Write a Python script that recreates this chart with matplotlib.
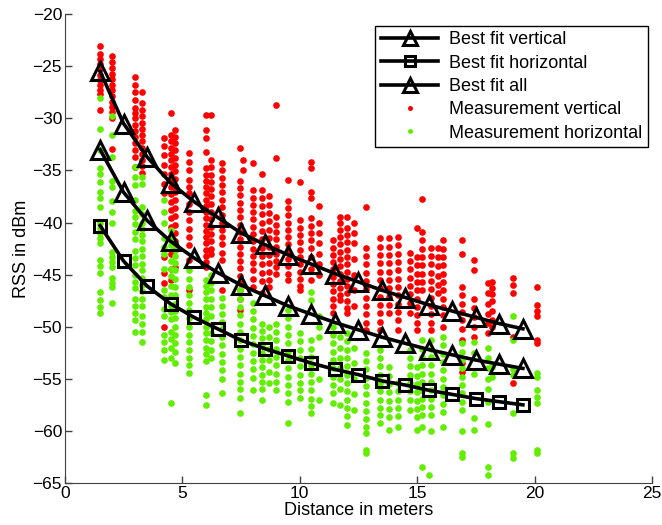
import matplotlib
matplotlib.use("Agg")
import matplotlib.pyplot as plt

plt.rcParams.update(
    {
        "font.family": ["Liberation Sans", "DejaVu Sans"],
        "font.size": 12,
        "axes.unicode_minus": True,
    }
)

RED = "#FF0000"
GREEN = "#62EE00"

# best-fit curves (one point per metre, starting at 1.5 m)
fit_x = [1.5, 2.5, 3.5, 4.5, 5.5, 6.5, 7.5, 8.5, 9.5, 10.5,
         11.5, 12.5, 13.5, 14.5, 15.5, 16.5, 17.5, 18.5, 19.5]
fit_vertical = [-25.5, -30.5, -33.7, -36.2, -38.0, -39.5, -41.0, -42.1, -43.1, -44.0,
                -44.9, -45.7, -46.5, -47.2, -47.9, -48.5, -49.1, -49.7, -50.2]
fit_horizontal = [-40.3, -43.7, -46.1, -47.8, -49.1, -50.2, -51.3, -52.1, -52.8, -53.5,
                  -54.1, -54.6, -55.2, -55.6, -56.1, -56.5, -56.9, -57.2, -57.5]
fit_all = [-33.0, -37.1, -39.8, -41.8, -43.4, -44.8, -46.0, -47.0, -48.0, -48.8,
           -49.6, -50.3, -51.0, -51.6, -52.2, -52.7, -53.2, -53.6, -54.0]

# measurement positions (m) and RSS samples (dBm) per position
meas_x = [1.5, 2.0, 3.0, 3.3, 4.2, 4.5, 4.7, 5.3, 6.0, 6.2, 6.7, 7.45, 7.6, 8.0, 8.4,
          8.7, 9.0, 9.5, 10.0, 10.5, 10.8, 11.4, 11.7, 12.0, 12.3, 12.8, 13.4, 13.8,
          14.2, 14.7, 15.0, 15.2, 15.5, 15.6, 15.9, 16.1, 16.9, 17.4, 18.0, 18.2, 19.1, 20.1]
meas_vertical = [
    [-23.1, -23.8, -24.3, -24.8, -25.3, -25.8, -26.3, -26.8, -27.3, -27.7, -29.2],
    [-24, -24.6, -25.2, -25.7, -26.2, -26.8, -27.3, -27.9, -28.4, -28.9, -29.4, -30, -32.9],
    [-26, -26.8, -27.5, -28.2, -29, -29.5, -30, -30.6, -31.2, -31.8, -32.4, -33, -33.7, -34.7],
    [-27.5, -28.5, -29.2, -29.8, -30.4, -31, -31.6, -32.2, -32.8, -33.4, -34, -34.6, -35.2],
    [-31.9, -32.7, -33.5, -34.5, -35.3, -36.3, -37.2, -43.3, -44.8, -45.8, -50],
    [-29.5, -31.6, -32.2, -32.8, -33.4, -34, -34.7, -35.3, -36, -36.6, -37.3, -38, -38.8,
     -39.6, -40.4, -43, -44.5, -45.5],
    [-31.1, -31.8, -32.4, -33, -33.8, -34.5, -35.1, -35.8, -36.5, -37.1, -37.8, -38.6,
     -39.4, -40.2, -41, -41.8, -42.6, -44.3],
    [-33.3, -34.2, -35, -35.9, -36.6, -37.2, -38.2, -39, -39.8, -40.6, -41.4, -42.2,
     -43.6, -46.5],
    [-29.7, -31.1, -31.9, -33.2, -34.8, -35.4, -36, -36.6, -37.2, -37.8, -38.4, -39,
     -39.6, -40.2, -40.8, -41.4, -42, -42.6, -43.2, -43.8, -44.3],
    [-29.7, -34, -34.7, -35.4, -36.1, -36.8, -37.5, -38.2, -39, -39.7, -40.4, -41.1,
     -41.8, -42.5, -43],
    [-34.3, -35, -35.7, -36.4, -37.1, -37.8, -38.5, -39.3, -40, -40.7, -41.4, -42.1,
     -42.9, -43.6, -46.5],
    [-32.8, -36, -36.7, -37.4, -38.1, -38.8, -39.5, -40.2, -40.9, -41.6, -42.3, -43,
     -43.7, -44.4, -45.1, -45.8, -46.5, -47.3, -48.4],
    [-34, -35],
    [-34.3, -36.9, -37.6, -38.3, -39, -39.7, -40.4, -41.1, -41.8, -42.5, -43.2, -43.9,
     -44.6, -45.4, -46.2],
    [-35.3, -36.9, -37.6, -38.4, -39.2, -40, -40.8, -41.6, -42.4, -43.2, -44, -44.8,
     -45.6, -46.8],
    [-37.5, -38.3, -39.1, -39.9, -40.7, -41.5, -42.3, -43.1, -43.9, -44.7, -45.5, -46.2],
    [-28.7, -33.8, -39.5, -40.2, -40.9, -41.6, -42.3, -43, -43.7, -44.3, -44.9],
    [-35.9, -37.9, -38.6, -39.3, -40, -40.7, -41.4, -42.1, -42.8, -43.5, -44.2, -44.9, -45.5],
    [-36.1, -39.8, -40.5, -41.2, -41.9, -42.6, -43.3, -44, -44.7, -45.4, -46.1, -46.5],
    [-34.2, -34.8, -37.1, -37.6, -39.6, -40.3, -41, -41.7, -42.4, -43.3, -44.5, -45.5],
    [-38.4, -40, -41, -42, -43, -44, -45],
    [-41.7, -42.4, -43.1, -43.8, -44.5, -45.2, -45.9, -46.6, -47.3, -48, -48.7],
    [-39.5, -40, -40.7, -41.4, -42.1, -42.8, -43.5, -44.2, -44.9, -45.6, -46.3, -47, -47.4],
    [-39.5, -40.5, -41.2, -41.9, -42.6, -43.3, -44, -44.7, -45.4, -46.1, -46.8, -47.5,
     -48.2, -48.7],
    [-40, -41, -42, -43.5, -45, -46.5, -48],
    [-38.5, -42.4, -43.2, -44, -44.8, -45.6, -46.4, -47.2, -48, -48.8, -49.6, -50.3],
    [-41.5, -42.3, -43.1, -43.9, -44.7, -45.5, -46.3, -47.1, -47.9, -48.7, -49.5, -50.3],
    [-41.5, -42.3, -43.1, -43.9, -44.7, -45.5, -46.3, -47.1, -47.9, -48.7],
    [-41.4, -42.2, -43, -43.8, -44.6, -45.4, -46.2, -47, -47.8, -48.6, -49.4, -50.3],
    [-42.9, -43.7, -44.5, -45.3, -46.1, -46.9, -47.7, -48.7],
    [-40.5, -43.3, -44.1, -44.9, -45.7, -46.5, -47.3, -48.1, -48.9, -49.6, -50.3],
    [-37.7, -40.9, -41.7, -42.5, -43.3, -44.1, -44.9, -45.7, -46.5],
    [],
    [-42.4, -43.2, -44, -44.8, -45.6, -46.4, -47.2, -48, -48.8, -49.6, -50.3],
    [-42.4, -43.3, -44.2, -45.1, -46, -46.8],
    [-41.7, -42.5, -43.3, -44.1, -44.9, -45.7, -46.5, -47.3, -48.1, -48.9, -50],
    [-41.7, -43, -46.2, -47, -47.8, -48.6, -49.4, -50.2, -51.3, -53.5, -54.3],
    [-43.6, -44.6, -47.3, -48.2, -49.1, -50, -51],
    [-45.8, -46.8, -47.8, -48.8, -49.6, -50.6],
    [-45.7, -46.3, -46.9, -47.5, -48.5, -49.4, -50],
    [-45.3, -46, -46.8, -51, -55.4],
    [-46.2, -47.9, -48.5, -49, -51.3, -51.6],
]
meas_horizontal = [
    [-28, -31, -33, -34.8, -35.3, -36.1, -37.1, -37.6, -38.5, -40, -40.5, -41, -41.5,
     -42, -43.6, -44.2, -44.8, -46.7, -47.4, -48.1, -48.7],
    [-29.8, -31.6, -33.7, -36, -36.6, -37.9, -39, -40, -42.8, -43.3, -43.8, -44.3,
     -45.3, -45.8, -46.2, -47.7],
    [-34.7, -35.6, -36.4, -37.8, -38.9, -39.5, -40.1, -40.9, -41.6, -42.7, -43.4, -44.1,
     -45, -45.7, -46.3, -47.3, -48, -48.7, -49.4, -50.5],
    [-35.6, -36.3, -38.5, -39.2, -40, -40.6, -41.2, -41.8, -42.5, -43.2, -44, -44.6,
     -45.3, -46, -46.6, -47.3, -48, -49, -49.7, -50.5, -51.5],
    [-37.8, -39, -40, -41.5, -42.3, -43, -44.5, -46.5, -47.1, -48.3, -49, -50.8, -51.5,
     -52.2, -53.2],
    [-40.7, -41.5, -42.2, -43.7, -44.5, -45.1, -46.1, -47, -48, -48.6, -49.3, -50.5,
     -51.2, -52, -53, -57.3],
    [-42.6, -43.2, -43.9, -44.6, -45.4, -46.2, -47, -47.8, -48.5, -49.2, -50, -50.8,
     -51.6, -52.4, -53.5],
    [-44.6, -45.4, -46.2, -47, -47.7, -48.4, -49.2, -50, -50.8, -51.5, -52.2, -53,
     -53.7, -54.4],
    [-45.5, -46.1, -46.7, -47.3, -48.1, -48.7, -49.3, -50, -50.6, -51.3, -52, -52.6,
     -53.3, -56.6, -57.5],
    [-45, -45.8, -46.5, -47.3, -48.1, -49, -49.8, -50.6, -51.4, -52.2, -53],
    [-47.2, -48, -48.8, -49.5, -50.2, -51, -51.8, -52.6, -53.4, -54.2, -55, -56.4],
    [-46.5, -47.3, -48.1, -48.9, -49.7, -50.5, -51.3, -52.1, -52.9, -53.7, -54.5, -55.3,
     -56, -56.8, -58.3],
    [],
    [-47.7, -48.5, -49.3, -50.1, -50.9, -51.7, -52.5, -53.3, -54.1, -54.9, -56.1],
    [-49.7, -50.4, -51.1, -51.8, -52.5, -53.2, -53.9, -54.6, -55.3, -56, -57],
    [-50, -51, -52.1, -53.2, -54.3, -55.4],
    [-49.7, -50.5, -51.3, -52.1, -52.9, -53.7, -54.5, -55.3, -56.1],
    [-48.4, -49.2, -50, -50.8, -51.6, -52.4, -53.2, -54, -54.8, -55.6, -56.4, -57.2, -59.2],
    [-50.6, -51.4, -52.2, -53, -53.8, -54.6, -55.4, -56.1, -56.8],
    [-46.7, -47.4, -51.3, -52.1, -52.9, -53.7, -54.5, -55.3, -56.1, -56.9, -57.6, -58.3],
    [-49, -50, -51, -55, -57],
    [-50, -50.8, -51.6, -52.4, -53.2, -54, -54.8, -55.6, -56.4, -57.3],
    [-51, -52, -53, -54, -55, -56, -57.5],
    [-50.6, -51.4, -52.2, -53, -53.8, -54.6, -55.4, -56.2, -57, -57.8, -58.6, -59.4],
    [-52, -53.5, -55, -56.5, -58],
    [-52.5, -53.3, -54.1, -54.9, -55.7, -56.5, -57.3, -58.1, -58.9, -59.6, -60.2, -61.8, -62.1],
    [-52.2, -53, -53.8, -54.6, -55.4, -56.2, -57, -57.8, -58.5, -59.2],
    [-53.9, -54.7, -55.5, -56.3, -57.1, -57.9, -58.7, -59.9],
    [-55.4, -56.2, -57, -57.8, -58.6, -59.6],
    [-52.2, -53, -53.8, -54.6, -55.4, -56.2, -57, -58],
    [-53.9, -54.7, -55.5, -56.3, -57.1, -57.9, -58.7, -59.9],
    [-51.3, -52.1, -52.9, -53.7, -54.5, -55.3, -56.1, -56.9, -57.7, -58.5, -59.6, -63.5],
    [-64.2],
    [-51.3, -52.1, -52.9, -53.7, -54.5, -55.3, -56.1, -56.9, -57.7, -58.5, -60],
    [],
    [-51, -51.8, -52.6, -53.4, -54.2, -55, -55.8, -56.6, -57.4, -58.2, -59.6],
    [-51.6, -52.4, -53.2, -54, -54.8, -55.6, -56.4, -57.2, -58, -60, -62.1, -62.5],
    [-51.5, -52.5, -54.5, -58.8, -59.9],
    [-52, -53, -54, -55, -56, -57.2, -59.3, -63.5, -64.2],
    [-53.9, -54.8],
    [-49, -51.3, -54.1, -54.6, -58.3, -62.1, -62.6],
    [-54.4, -54.8, -56.1, -56.7, -57.3, -61.8, -62.1],
]

vert_x = [x for x, ys in zip(meas_x, meas_vertical) for _ in ys]
vert_y = [y for ys in meas_vertical for y in ys]
horiz_x = [x for x, ys in zip(meas_x, meas_horizontal) for _ in ys]
horiz_y = [y for ys in meas_horizontal for y in ys]

fig = plt.figure(figsize=(6.62, 5.25), dpi=100)
ax = fig.add_axes([0.098, 0.08, 0.887, 0.893])

line_kw = dict(color="black", lw=2.6, markerfacecolor="none", markeredgecolor="black",
               markeredgewidth=2.2)
ax.plot(fit_x, fit_vertical, marker="^", markersize=12.5, label="Best fit vertical", **line_kw)
ax.plot(fit_x, fit_horizontal, marker="s", markersize=9, label="Best fit horizontal", **line_kw)
ax.plot(fit_x, fit_all, marker="^", markersize=12.5, label="Best fit all", **line_kw)
ax.plot(vert_x, vert_y, "o", color=RED, markersize=4.8, markeredgewidth=0,
        label="Measurement vertical", zorder=1)
ax.plot(horiz_x, horiz_y, "o", color=GREEN, markersize=4.8, markeredgewidth=0,
        label="Measurement horizontal", zorder=1)

ax.set_xlim(0, 25)
ax.set_ylim(-65, -20)
ax.set_xticks(range(0, 26, 5))
ax.set_yticks(range(-65, -19, 5))
ax.tick_params(direction="in", length=5, width=1, color="#404040", labelsize=12.5, pad=2)
for side in ("top", "right"):
    ax.spines[side].set_visible(False)
for side in ("left", "bottom"):
    ax.spines[side].set_color("#404040")
ax.set_xlabel("Distance in meters", fontsize=13, labelpad=1)
ax.set_ylabel("RSS in dBm", fontsize=13, labelpad=2)

ax.legend(loc="upper right", bbox_to_anchor=(0.993, 0.975), fancybox=False,
          edgecolor="black", framealpha=1, fontsize=13, handlelength=3.2,
          markerscale=0.75, borderpad=0.3, labelspacing=0.35, handletextpad=0.6,
          borderaxespad=0)

fig.savefig("out.png", dpi=100)
